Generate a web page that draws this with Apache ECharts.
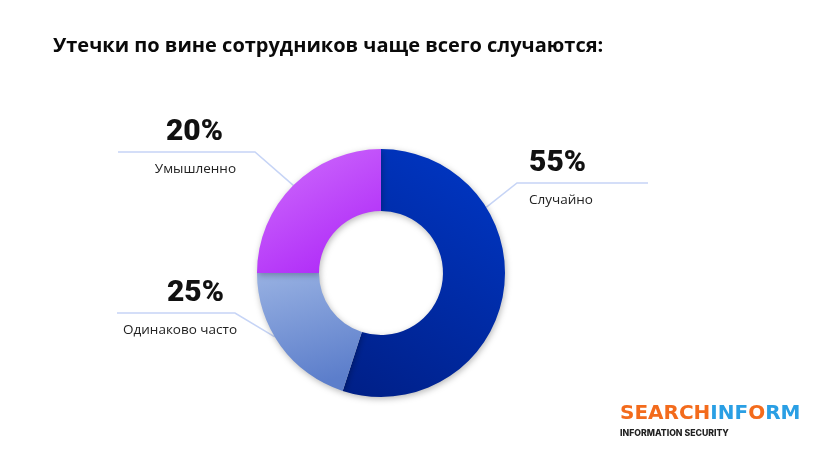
<!DOCTYPE html>
<html>
<head>
<meta charset="utf-8">
<script src="https://cdn.jsdelivr.net/npm/echarts@6/dist/echarts.min.js"></script>
<style>
  html, body { margin: 0; padding: 0; background: #fff; }
  #chart { width: 834px; height: 468px; }
</style>
</head>
<body>
<div id="chart"></div>
<script>
// данные
const categories = ['Случайно', 'Одинаково часто', 'Умышленно']
// размеры секторов так, как они нарисованы
const sliceShares = [55, 20, 25]
// проценты, подписанные рядом с секторами
const printedShares = ['55%', '25%', '20%']

const titleText = 'Утечки по вине сотрудников чаще всего случаются:'

// оформление
const center = [381, 273]
const radius = [62, 124]
const gradients = [
    { x: 1, y: 0, x2: 0, y2: 1, from: '#0038c8', to: '#001f86' },
    { x: 0, y: 0, x2: 0.3, y2: 1, from: '#98b1e2', to: '#5c7ecb' },
    { x: 0, y: 0, x2: 0.6, y2: 1, from: '#d070fc', to: '#b02cf8' }
]
// выноски: угол точки на внешнем радиусе (от верха по часовой), излом и конец линии относительно центра
const leaders = [
    { angle: 58, elbow: [136, -90], endX: 267, side: 'right', labelX: 148 },
    { angle: 239, elbow: [-146, 40], endX: -264, side: 'left', labelX: -144 },
    { angle: 315, elbow: [-126, -121], endX: -263, side: 'left', labelX: -145 }
]

const chart = echarts.init(document.getElementById('chart'))

const data = categories.map(function (name, i) {
    const g = gradients[i]
    return {
        name: name,
        value: sliceShares[i],
        printed: printedShares[i],
        itemStyle: {
            color: {
                type: 'linear', x: g.x, y: g.y, x2: g.x2, y2: g.y2,
                colorStops: [{ offset: 0, color: g.from }, { offset: 1, color: g.to }]
            }
        }
    }
})

chart.setOption({
    backgroundColor: '#ffffff',
    animation: false,
    title: {
        text: titleText,
        left: 48,
        top: 31,
        textStyle: { fontFamily: 'Open Sans', fontWeight: 'bold', fontSize: 20, color: '#0a0a0a' }
    },
    graphic: [
        {
            type: 'text',
            left: 620,
            top: 404,
            style: {
                text: '{o|SEARCH}{b|INF}{o|O}{b|RM}',
                rich: {
                    o: { fontFamily: 'DejaVu Sans', fontWeight: 'bold', fontSize: 20, fill: '#f36b1c' },
                    b: { fontFamily: 'DejaVu Sans', fontWeight: 'bold', fontSize: 20, fill: '#2a9fe4' }
                }
            }
        },
        {
            type: 'text',
            left: 620,
            top: 429,
            style: {
                text: 'INFORMATION SECURITY',
                fontFamily: 'Inter', fontWeight: 800, fontSize: 8.7, fill: '#222222'
            }
        }
    ],
    series: [{
        type: 'pie',
        center: center,
        radius: radius,
        startAngle: 90,
        clockwise: true,
        avoidLabelOverlap: false,
        data: data,
        itemStyle: {
            shadowBlur: 6,
            shadowColor: 'rgba(0, 0, 0, 0.28)',
            shadowOffsetX: 1,
            shadowOffsetY: 2
        },
        emphasis: { disabled: true },
        label: {
            show: true,
            position: 'outside',
            formatter: function (p) {
                return '{pct|' + p.data.printed + '}\n{name|' + p.name + '}'
            },
            rich: {
                pct: {
                    fontFamily: 'Roboto',
                    fontWeight: 900,
                    fontSize: 30,
                    lineHeight: 36,
                    padding: [0, 13, 0, 0],
                    color: '#111111'
                },
                name: {
                    fontFamily: 'Open Sans',
                    fontSize: 13.5,
                    lineHeight: 38,
                    color: '#222222'
                }
            }
        },
        labelLine: {
            show: true,
            length: 20,
            length2: 40,
            lineStyle: { color: '#c6d4f6', width: 1.5 }
        },
        labelLayout: function (params) {
            const l = leaders[params.dataIndex]
            const a = l.angle * Math.PI / 180
            const cx = center[0]
            const cy = center[1]
            const start = [cx + radius[1] * Math.sin(a), cy - radius[1] * Math.cos(a)]
            const elbow = [cx + l.elbow[0], cy + l.elbow[1]]
            const end = [cx + l.endX, elbow[1]]
            return {
                x: cx + l.labelX,
                y: elbow[1] - 38,
                align: l.side === 'right' ? 'left' : 'right',
                verticalAlign: 'top',
                labelLinePoints: [start, elbow, end]
            }
        }
    }]
})
</script>
</body>
</html>
